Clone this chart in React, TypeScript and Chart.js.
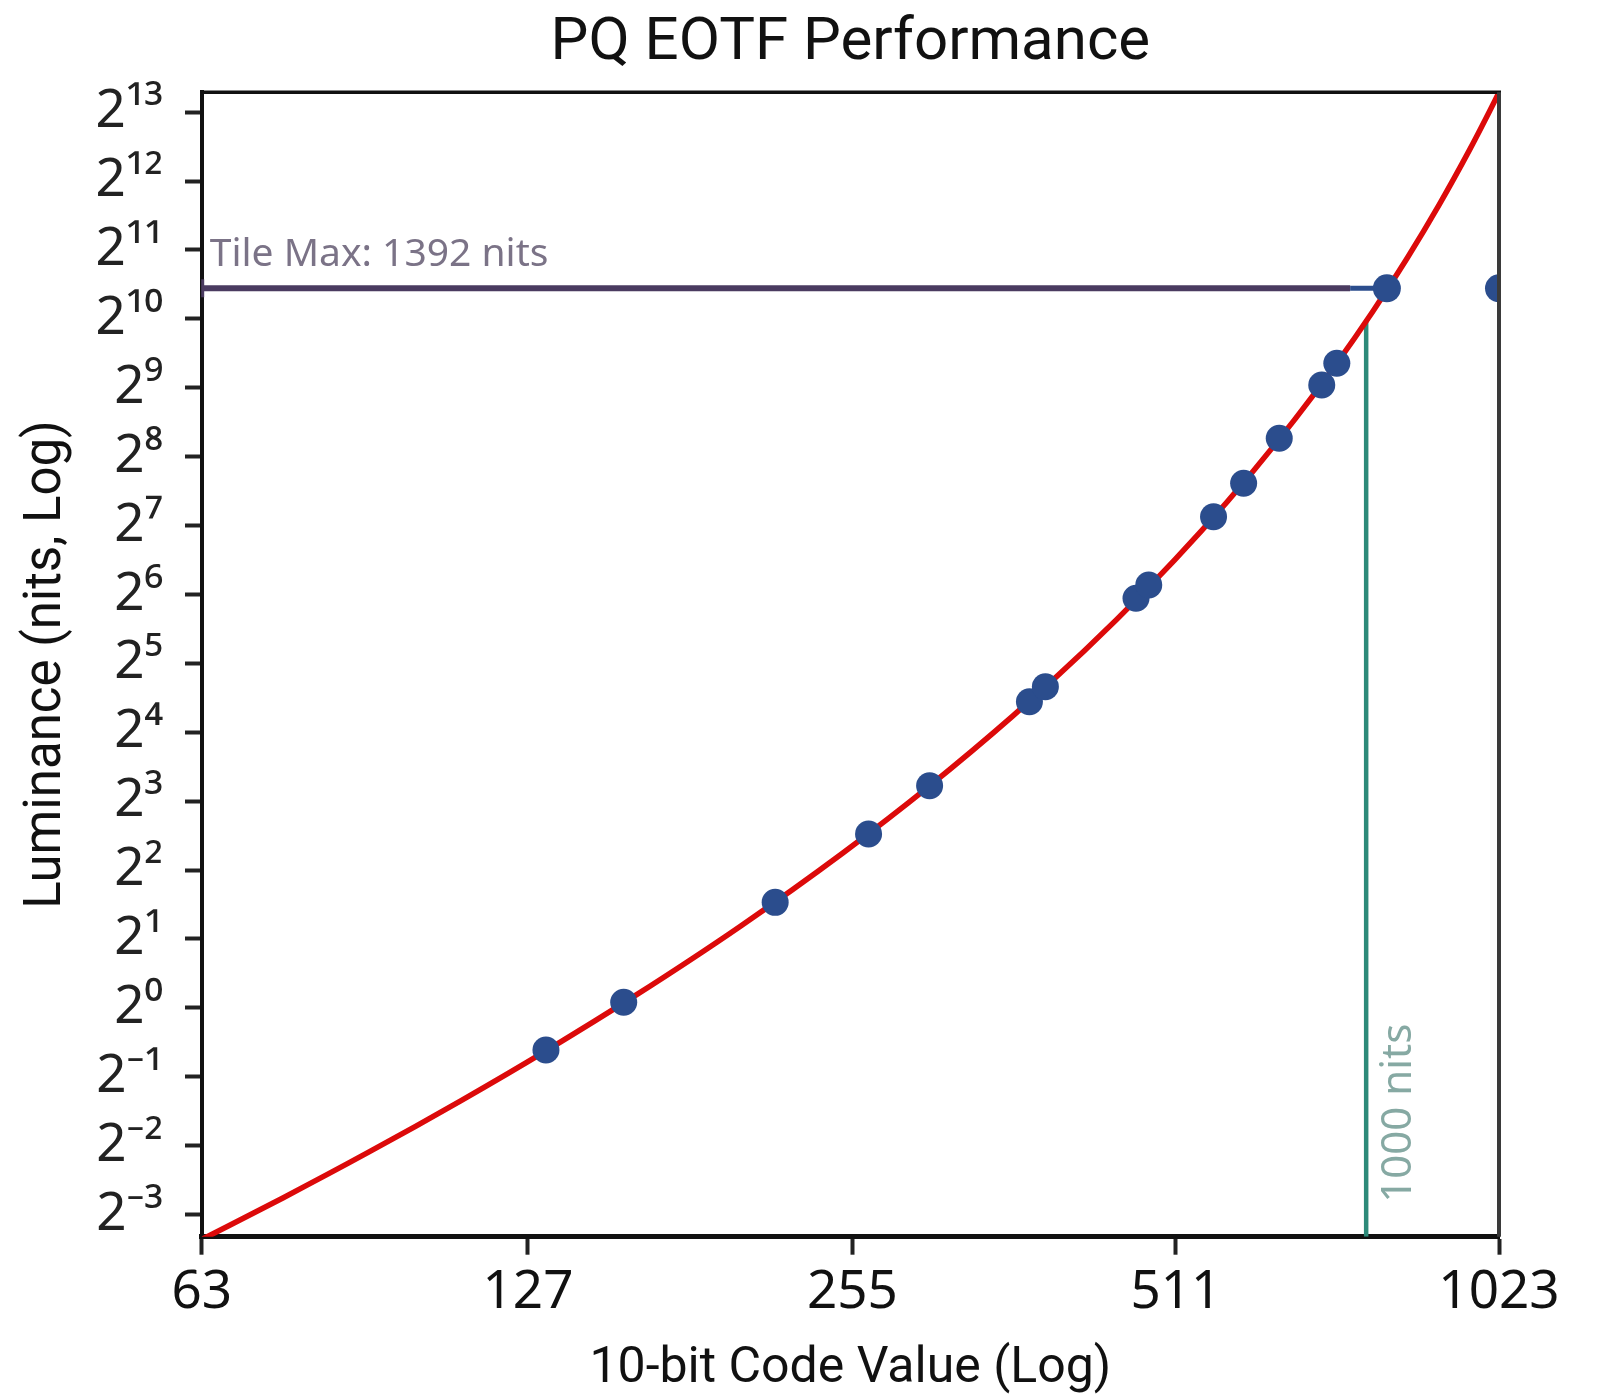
import React, { useEffect, useRef } from "react";
import { Chart, registerables } from "chart.js";

Chart.register(...registerables);

// ---------- data ----------
const chartTitle = "PQ EOTF Performance";
const xAxisTitle = "10-bit Code Value (Log)";
const yAxisTitle = "Luminance (nits, Log)";

const xTickValues = [63, 127, 255, 511, 1023];
const xTickLabels = ["63", "127", "255", "511", "1023"];
const yTickValues = [0.125, 0.25, 0.5, 1, 2, 4, 8, 16, 32, 64, 128, 256, 512, 1024, 2048, 4096, 8192];
const yTickLabels = ["2⁻³", "2⁻²", "2⁻¹", "2⁰", "2¹", "2²", "2³", "2⁴", "2⁵", "2⁶", "2⁷", "2⁸", "2⁹", "2¹⁰", "2¹¹", "2¹²", "2¹³"];

// red PQ curve
const curveCodes = [63, 75, 90, 110, 132, 160, 200, 250, 300, 360, 420, 480, 540, 600, 660, 720, 780, 840, 900, 960, 1000, 1023];
const curveNits = [0.0972, 0.1477, 0.2328, 0.3935, 0.649, 1.133, 2.257, 4.76, 9.208, 18.85, 36.4, 67.51, 121.6, 214.6, 373.3, 643.1, 1102, 1888, 3239, 5587, 8078, 10000];

// blue measured samples
const sampleCodes = [132, 156, 216, 264, 301, 373, 386, 469, 482, 554, 591, 638, 699, 722];
const sampleNits = [0.654, 1.057, 2.89, 5.75, 9.34, 21.75, 25.3, 61.6, 70.4, 139.9, 195.8, 307.8, 526, 654.7];

// tile max
const tileMaxNits = 1392;
const tileMaxMarkerCodes = [804, 1023];
const tileMaxLineCodes = [63, 743, 804];

// 1000 nit reference
const refNits = 1000;
const refCode = 769;
const refLineNits = [0.1, 1000];

// ---------- component ----------
const overlayPlugin = {
  id: "overlay",
  afterDatasetsDraw(chart: any) {
    const { ctx, chartArea: a, scales } = chart;
    const xs = scales.x;
    const ys = scales.y;
    ctx.save();
    ctx.lineCap = "butt";
    ctx.strokeStyle = "#111111";
    ctx.lineWidth = 3.5;
    ctx.beginPath();
    ctx.moveTo(a.left, a.top);
    ctx.lineTo(a.right + 2, a.top);
    ctx.stroke();
    ctx.strokeStyle = "#3a3a3a";
    ctx.lineWidth = 4;
    ctx.beginPath();
    ctx.moveTo(a.right, a.top);
    ctx.lineTo(a.right, a.bottom);
    ctx.stroke();

    // small end cap of the tile max line
    const ty = ys.getPixelForValue(tileMaxNits);
    ctx.strokeStyle = "#4a3b60";
    ctx.lineWidth = 3;
    ctx.beginPath();
    ctx.moveTo(a.left + 1, ty - 9);
    ctx.lineTo(a.left + 1, ty + 9);
    ctx.stroke();

    ctx.font = "39px 'Noto Sans'";
    ctx.fillStyle = "#7b7387";
    ctx.textAlign = "left";
    ctx.textBaseline = "alphabetic";
    ctx.fillText(`Tile Max: ${tileMaxNits} nits`, a.left + 8, ty - 22);

    ctx.translate(xs.getPixelForValue(refCode) + 33, a.bottom - 34);
    ctx.rotate(-Math.PI / 2);
    ctx.fillStyle = "#86a9a3";
    ctx.textBaseline = "middle";
    ctx.font = "42px 'Noto Sans'";
    ctx.fillText(`${refNits} nits`, 0, 0);
    ctx.restore();
  },
};

export default function App() {
  const ref = useRef<HTMLCanvasElement | null>(null);

  useEffect(() => {
    document.body.style.margin = "0";
    const canvas = ref.current;
    if (!canvas) return;

    const curve = curveCodes.map((c, i) => ({ x: c, y: curveNits[i] }));
    const samples = sampleCodes.map((c, i) => ({ x: c, y: sampleNits[i] }));
    const markers = tileMaxMarkerCodes.map((c) => ({ x: c, y: tileMaxNits }));
    const tileLine = tileMaxLineCodes.map((c) => ({ x: c, y: tileMaxNits }));
    const refLine = refLineNits.map((v) => ({ x: refCode, y: v }));

    const chart = new Chart(canvas, {
      type: "scatter",
      data: {
        datasets: [
          {
            label: "Samples",
            data: samples,
            backgroundColor: "#2b4d8d",
            borderWidth: 0,
            pointRadius: 13.5,
            pointHoverRadius: 13.5,
            showLine: false,
            order: 0,
            clip: 0,
          },
          {
            label: "Tile Max markers",
            data: markers,
            backgroundColor: "#2b4d8d",
            borderWidth: 0,
            pointRadius: 14,
            pointHoverRadius: 14,
            showLine: false,
            order: 0,
            clip: 0,
          },
          {
            label: "PQ EOTF",
            data: curve,
            showLine: true,
            borderColor: "#dc0a0a",
            borderWidth: 5.5,
            pointRadius: 0,
            cubicInterpolationMode: "monotone",
            order: 1,
            clip: 0,
          },
          {
            label: "Tile Max",
            data: tileLine,
            showLine: true,
            borderColor: "#4a3b60",
            borderWidth: 6,
            pointRadius: 0,
            segment: {
              borderColor: (ctx: any) => (ctx.p0DataIndex === 1 ? "#2b4d8d" : "#4a3b60"),
              borderWidth: (ctx: any) => (ctx.p0DataIndex === 1 ? 5 : 6),
            },
            order: 2,
            clip: 0,
          },
          {
            label: "1000 nits",
            data: refLine,
            showLine: true,
            borderColor: "#2d8a79",
            borderWidth: 4.5,
            pointRadius: 0,
            order: 3,
            clip: 0,
          },
        ],
      },
      options: {
        responsive: false,
        animation: false,
        devicePixelRatio: 1,
        layout: { padding: { left: 0, right: 99, top: 0, bottom: 0 } },
        plugins: {
          legend: { display: false },
          tooltip: { enabled: false },
          title: {
            display: true,
            text: chartTitle,
            fullSize: false,
            color: "#111111",
            font: { family: "Roboto", size: 60, lineHeight: 1, weight: "normal" },
            padding: { top: 14, bottom: 18.3 },
          },
        },
        scales: {
          x: {
            type: "logarithmic",
            min: 63,
            max: 1023,
            afterBuildTicks: (scale: any) => {
              scale.ticks = xTickValues.map((v) => ({ value: v }));
            },
            afterFit: (scale: any) => {
              scale.height = 158.3;
            },
            ticks: {
              autoSkip: false,
              maxRotation: 0,
              minRotation: 0,
              padding: 12,
              color: "#111111",
              font: { family: "'Noto Sans'", size: 53, lineHeight: 1 },
              callback: (_v: any, i: number) => xTickLabels[i],
            },
            grid: {
              display: true,
              drawOnChartArea: false,
              drawTicks: true,
              tickLength: 18,
              tickWidth: 4,
              tickColor: "#222222",
            },
            border: { display: true, width: 5, color: "#111111" },
            title: {
              display: true,
              text: xAxisTitle,
              color: "#111111",
              font: { family: "Roboto", size: 50, lineHeight: 1 },
              padding: { top: 0, bottom: 1 },
            },
          },
          y: {
            type: "logarithmic",
            min: 0.1,
            max: 10000,
            afterBuildTicks: (scale: any) => {
              scale.ticks = yTickValues.map((v) => ({ value: v }));
            },
            afterFit: (scale: any) => {
              scale.width = 201.7;
            },
            ticks: {
              autoSkip: false,
              padding: 22,
              color: "#222222",
              font: { family: "'Noto Sans'", size: 53, lineHeight: 1 },
              callback: (_v: any, i: number) => yTickLabels[i],
            },
            grid: {
              display: true,
              drawOnChartArea: false,
              drawTicks: true,
              tickLength: 16.7,
              tickWidth: 4,
              tickColor: "#222222",
            },
            border: { display: true, width: 4, color: "#111111" },
            title: {
              display: true,
              text: yAxisTitle,
              color: "#111111",
              font: { family: "Roboto", size: 51, lineHeight: 1 },
              padding: { top: 22, bottom: 0 },
            },
          },
        },
      },
      plugins: [overlayPlugin],
    } as any);

    return () => chart.destroy();
  }, []);

  return <canvas ref={ref} width={1598} height={1395} style={{ display: "block", width: 1598, height: 1395 }} />;
}
